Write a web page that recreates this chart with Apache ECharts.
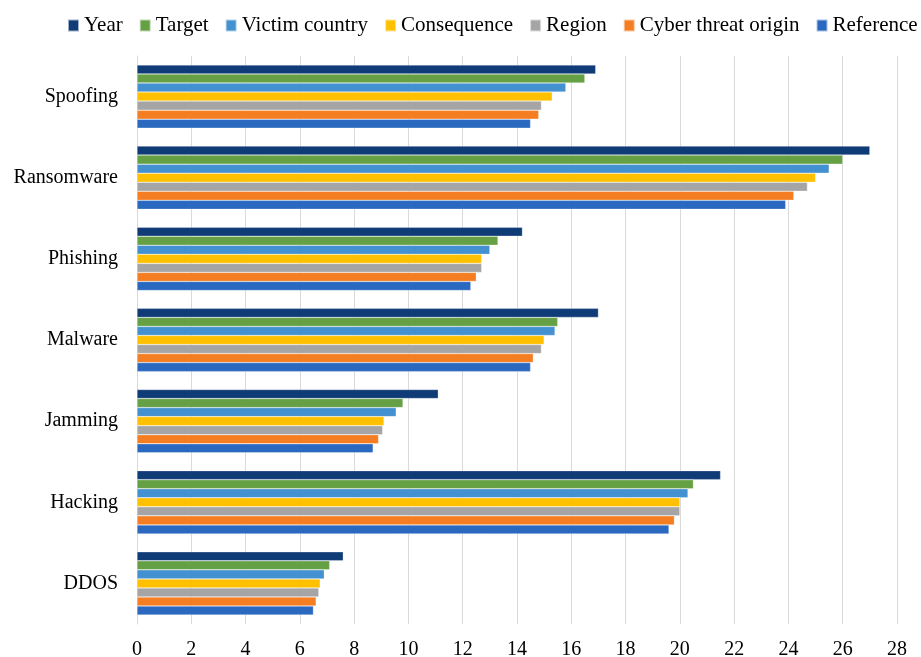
<!DOCTYPE html>
<html><head><meta charset="utf-8">
<script src="https://cdn.jsdelivr.net/npm/echarts@6/dist/echarts.min.js"></script>
<style>html,body{margin:0;padding:0;background:#fff}#c{width:921px;height:657px}</style>
</head><body><div id="c"></div>
<script>
const categories = ['DDOS','Hacking','Jamming','Malware','Phishing','Ransomware','Spoofing'];
const seriesNames = ['Year','Target','Victim country','Consequence','Region','Cyber threat origin','Reference'];
const yearVals        = [7.6, 21.5, 11.1, 17.0, 14.2, 27.0, 16.9];
const targetVals      = [7.1, 20.5, 9.8, 15.5, 13.3, 26.0, 16.5];
const victimVals      = [6.9, 20.3, 9.55, 15.4, 13.0, 25.5, 15.8];
const consequenceVals = [6.75, 20.0, 9.1, 15.0, 12.7, 25.0, 15.3];
const regionVals      = [6.7, 20.0, 9.05, 14.9, 12.7, 24.7, 14.9];
const originVals      = [6.6, 19.8, 8.9, 14.6, 12.5, 24.2, 14.8];
const referenceVals   = [6.5, 19.6, 8.7, 14.5, 12.3, 23.9, 14.5];
const xTicks = {min: 0, max: 28, interval: 2};

const values = [yearVals, targetVals, victimVals, consequenceVals, regionVals, originVals, referenceVals];
const colors = ['#0f3b76','#66a044','#4391d0','#ffc000','#a5a5a5','#f47e21','#2b69c0'];
const font = 'Liberation Serif';

const series = seriesNames.map((n, i) => ({
  name: n, type: 'bar', data: values[i],
  itemStyle: {color: colors[i], borderColor: 'rgba(255,255,255,0.6)', borderWidth: 0.5},
  barGap: '0%', barCategoryGap: '22%'
}));

const chart = echarts.init(document.getElementById('c'), null, {renderer: 'canvas'});
chart.setOption({
  animation: false,
  color: colors,
  legend: {
    data: seriesNames, top: 15, left: 67, width: 900, padding: 0,
    itemWidth: 11, itemHeight: 12, itemGap: 16, icon: 'rect',
    textStyle: {fontFamily: font, fontSize: 21, color: '#000'}
  },
  grid: {left: 137, right: 24, top: 56, bottom: 33, containLabel: false, outerBoundsMode: 'none'},
  xAxis: {
    type: 'value', min: xTicks.min, max: xTicks.max, interval: xTicks.interval,
    axisLine: {show: false}, axisTick: {show: false},
    splitLine: {show: true, lineStyle: {color: '#d9d9d9', width: 1}},
    axisLabel: {fontFamily: font, fontSize: 20, color: '#000', margin: 16}
  },
  yAxis: {
    type: 'category', data: categories,
    axisLine: {show: true, lineStyle: {color: '#d9d9d9'}}, axisTick: {show: false},
    axisLabel: {fontFamily: font, fontSize: 20, color: '#000', margin: 19}
  },
  series: series
});
</script></body></html>
